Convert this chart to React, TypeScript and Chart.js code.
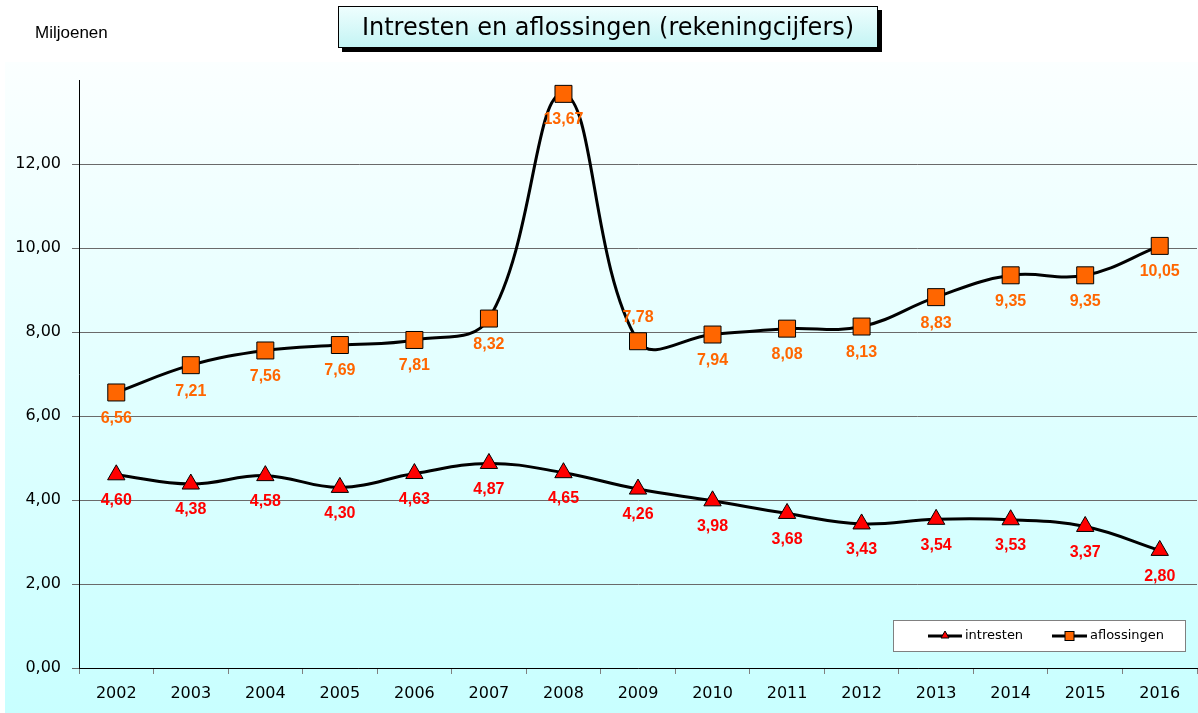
import React, { useEffect, useRef } from "react";
import { Chart, registerables } from "chart.js";

Chart.register(...registerables);

const years = ["2002", "2003", "2004", "2005", "2006", "2007", "2008", "2009", "2010", "2011", "2012", "2013", "2014", "2015", "2016"];
const intresten = [4.6, 4.38, 4.58, 4.3, 4.63, 4.87, 4.65, 4.26, 3.98, 3.68, 3.43, 3.54, 3.53, 3.37, 2.8];
const aflossingen = [6.56, 7.21, 7.56, 7.69, 7.81, 8.32, 13.67, 7.78, 7.94, 8.08, 8.13, 8.83, 9.35, 9.35, 10.05];
const aflossingenLabelsAbove = [7];
const seriesNames = ["intresten", "aflossingen"];
const titleText = "Intresten en aflossingen (rekeningcijfers)";
const unitText = "Miljoenen";

const fmt = (v: number) => v.toFixed(2).replace(".", ",");

const ORANGE = "#ff6600";
const RED = "#ff0000";

const panelPlugin = {
  id: "panelBg",
  beforeDraw(chart: any) {
    const ctx = chart.ctx;
    const g = ctx.createLinearGradient(0, 62, 0, 713);
    g.addColorStop(0, "#fbffff");
    g.addColorStop(1, "#c8ffff");
    ctx.save();
    ctx.fillStyle = g;
    ctx.fillRect(5, 62, chart.width - 5, chart.height - 62);
    ctx.restore();
  },
};

const labelPlugin = {
  id: "valueLabels",
  afterDatasetsDraw(chart: any) {
    const ctx = chart.ctx;
    chart.data.datasets.forEach((ds: any, i: number) => {
      const meta = chart.getDatasetMeta(i);
      ctx.save();
      ctx.font = 'bold 16px "Liberation Sans", Arial, sans-serif';
      ctx.fillStyle = ds.labelColor;
      ctx.textAlign = "center";
      ctx.textBaseline = "middle";
      meta.data.forEach((pt: any, j: number) => {
        const above = (ds.labelAbove || []).includes(j);
        ctx.fillText(fmt(ds.data[j]), pt.x, pt.y + (above ? -24 : 26));
      });
      ctx.restore();
    });
  },
};

const legendPlugin = {
  id: "customLegend",
  afterDraw(chart: any) {
    const ctx = chart.ctx;
    const x0 = 893, y0 = 620, w = 292, h = 31;
    ctx.save();
    ctx.fillStyle = "#ffffff";
    ctx.fillRect(x0, y0, w, h);
    ctx.strokeStyle = "#808080";
    ctx.lineWidth = 1;
    ctx.strokeRect(x0 + 0.5, y0 + 0.5, w, h);
    const cy = y0 + 16;
    const entries = [
      { x1: 928, x2: 962, tx: 965, shape: "tri", name: seriesNames[0] },
      { x1: 1052, x2: 1087, tx: 1090, shape: "sq", name: seriesNames[1] },
    ];
    entries.forEach((e) => {
      ctx.strokeStyle = "#000";
      ctx.lineWidth = 3;
      ctx.beginPath();
      ctx.moveTo(e.x1, cy);
      ctx.lineTo(e.x2, cy);
      ctx.stroke();
      const mx = (e.x1 + e.x2) / 2;
      ctx.lineWidth = 1;
      if (e.shape === "tri") {
        ctx.fillStyle = RED;
        ctx.beginPath();
        ctx.moveTo(mx, cy - 5);
        ctx.lineTo(mx + 4, cy + 2);
        ctx.lineTo(mx - 4, cy + 2);
        ctx.closePath();
        ctx.fill();
        ctx.stroke();
      } else {
        ctx.fillStyle = ORANGE;
        ctx.fillRect(mx - 4.5, cy - 4.5, 9, 9);
        ctx.strokeRect(mx - 4.5, cy - 4.5, 9, 9);
      }
      ctx.fillStyle = "#000";
      ctx.font = '13px "DejaVu Sans", sans-serif';
      ctx.textAlign = "left";
      ctx.textBaseline = "middle";
      ctx.fillText(e.name, e.tx, cy);
    });
    ctx.restore();
  },
};

export default function App() {
  const ref = useRef<HTMLCanvasElement>(null);
  useEffect(() => {
    if (!ref.current) return;
    const chart = new Chart(ref.current, {
      type: "line",
      data: {
        labels: years,
        datasets: [
          {
            label: seriesNames[0],
            data: intresten,
            borderColor: "#000",
            borderWidth: 3,
            tension: 0.4,
            pointStyle: "triangle",
            pointRadius: 10,
            pointBackgroundColor: RED,
            pointBorderColor: "#000",
            pointBorderWidth: 1,
            labelColor: RED,
          } as any,
          {
            label: seriesNames[1],
            data: aflossingen,
            borderColor: "#000",
            borderWidth: 3,
            tension: 0.4,
            pointStyle: "rect",
            pointRadius: 12,
            pointBackgroundColor: ORANGE,
            pointBorderColor: "#000",
            pointBorderWidth: 1,
            labelColor: ORANGE,
            labelAbove: aflossingenLabelsAbove,
          } as any,
        ],
      },
      options: {
        responsive: false,
        animation: false,
        layout: { autoPadding: false, padding: { top: 80, left: 0, right: 1, bottom: 0 } },
        plugins: {
          legend: { display: false },
          tooltip: { enabled: false },
          title: { display: false },
        },
        scales: {
          x: {
            offset: true,
            afterFit: (s: any) => {
              s.height = 45;
              s.paddingLeft = 0;
              s.paddingRight = 0;
            },
            grid: {
              offset: true,
              drawOnChartArea: false,
              tickLength: 6,
              color: "#808080",
            },
            border: { color: "#000", width: 1 },
            ticks: {
              color: "#000",
              font: { family: '"DejaVu Sans", sans-serif', size: 16 },
              padding: 10,
              maxRotation: 0,
            },
          },
          y: {
            min: 0,
            max: 14,
            afterFit: (s: any) => {
              s.width = 79;
              s.paddingTop = 0;
              s.paddingBottom = 0;
            },
            ticks: {
              stepSize: 2,
              color: "#000",
              padding: 11,
              font: { family: '"DejaVu Sans", sans-serif', size: 16 },
              callback: (v: any) => (v === 14 ? "" : fmt(Number(v))),
            },
            grid: {
              tickLength: 7,
              color: (c: any) => (c.tick && c.tick.value === 14 ? "rgba(0,0,0,0)" : "#6a6a6a"),
            },
            border: { color: "#000", width: 1 },
          },
        },
      },
      plugins: [panelPlugin, labelPlugin, legendPlugin],
    });
    return () => chart.destroy();
  }, []);

  return (
    <div style={{ position: "absolute", left: 0, top: 0, width: 1198, height: 713, background: "#fff" }}>
      <canvas ref={ref} width={1198} height={713} style={{ position: "absolute", left: 0, top: 0 }} />
      <div
        style={{
          position: "absolute",
          left: 35,
          top: 23,
          fontFamily: '"Liberation Sans", Arial, sans-serif',
          fontSize: 17,
          color: "#000",
        }}
      >
        {unitText}
      </div>
      <div
        style={{
          position: "absolute",
          left: 338,
          top: 6,
          width: 540,
          height: 42,
          boxSizing: "border-box",
          border: "1px solid #000",
          boxShadow: "4px 4px 0 #000",
          background: "linear-gradient(to bottom, #eefefe, #c4f4f4)",
          display: "flex",
          alignItems: "center",
          justifyContent: "center",
          fontFamily: '"Comic Sans MS", "DejaVu Sans", sans-serif',
          fontSize: 24,
          color: "#000",
          whiteSpace: "nowrap",
        }}
      >
        {titleText}
      </div>
    </div>
  );
}
